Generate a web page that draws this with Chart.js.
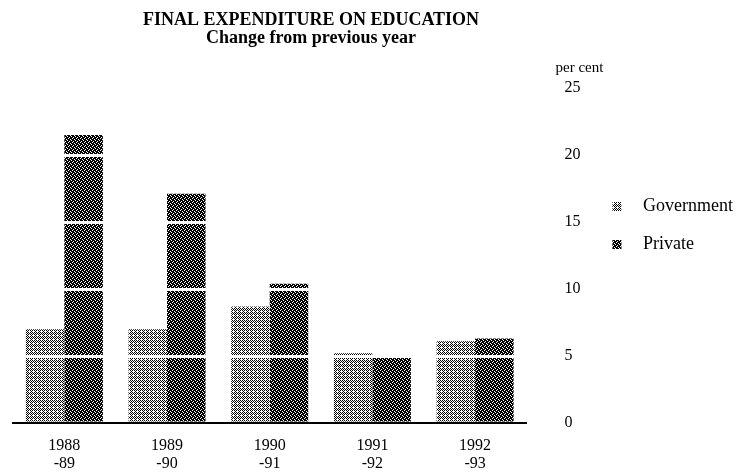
<!DOCTYPE html>
<html>
<head>
<meta charset="utf-8">
<title>Final expenditure on education</title>
<script src="https://cdn.jsdelivr.net/npm/chart.js@4.4.1/dist/chart.umd.min.js"></script>
<style>
  html, body { margin: 0; padding: 0; background: #fff; }
  #wrap { width: 737px; height: 472px; }
</style>
</head>
<body>
<div id="wrap"><canvas id="chart" width="737" height="472"></canvas></div>
<script>
const CATEGORIES = [["1988", "-89"], ["1989", "-90"], ["1990", "-91"], ["1991", "-92"], ["1992", "-93"]]
const GOVERNMENT = [7.0, 7.0, 8.7, 5.2, 6.1]
const PRIVATE = [21.5, 17.1, 10.4, 4.9, 6.3]
const SERIES_NAMES = ["Government", "Private"]
const Y_TICKS = [0, 5, 10, 15, 20, 25]
const TITLE_LINES = ["FINAL EXPENDITURE ON EDUCATION", "Change from previous year"]
const Y_UNIT = "per cent"

const SERIF = '"Liberation Serif", "Times New Roman", serif'

Chart.defaults.font.family = SERIF
Chart.defaults.color = "#000"

const canvas = document.getElementById("chart")
const ctx = canvas.getContext("2d")

// dithered fills, like the printed original
function makePattern(rows) {
  const tile = document.createElement("canvas")
  tile.width = rows[0].length
  tile.height = rows.length
  const t = tile.getContext("2d")
  t.fillStyle = "#fff"
  t.fillRect(0, 0, tile.width, tile.height)
  t.fillStyle = "#000"
  rows.forEach((row, y) => {
    ;[...row].forEach((c, x) => {
      if (c === "x") t.fillRect(x, y, 1, 1)
    })
  })
  return ctx.createPattern(tile, "repeat")
}

const GOV_FILL = makePattern(["x.x.", ".x.x", "x.x.", "...x"])
const PRIVATE_FILL = makePattern(["xxx.", "x.xx", ".xxx", "xx.x"])

const headingPlugin = {
  id: "heading",
  afterDraw(chart) {
    const c = chart.ctx
    const y = chart.scales.y
    c.save()
    c.fillStyle = "#000"
    c.textAlign = "center"
    c.textBaseline = "middle"
    c.font = "bold 18px " + SERIF
    c.fillText(TITLE_LINES[0], 311, 20)
    c.fillText(TITLE_LINES[1], 311, 38)
    c.font = "15px " + SERIF
    c.fillText(Y_UNIT, y.left + 53, 68)
    c.restore()
  },
}

new Chart(canvas, {
  type: "bar",
  data: {
    labels: CATEGORIES,
    datasets: [
      {
        label: SERIES_NAMES[0],
        data: GOVERNMENT,
        backgroundColor: GOV_FILL,
        borderWidth: 0,
        categoryPercentage: 0.75,
        barPercentage: 1,
      },
      {
        label: SERIES_NAMES[1],
        data: PRIVATE,
        backgroundColor: PRIVATE_FILL,
        borderWidth: 0,
        categoryPercentage: 0.75,
        barPercentage: 1,
      },
    ],
  },
  options: {
    responsive: false,
    animation: false,
    layout: { padding: { left: 13, top: 88, right: -6, bottom: 0 } },
    plugins: {
      title: { display: false },
      tooltip: { enabled: false },
      legend: {
        position: "right",
        align: "start",
        title: { display: true, text: "", padding: { top: 75, bottom: 0 } },
        labels: {
          color: "#000",
          font: { size: 18 },
          boxWidth: 9,
          boxHeight: 9,
          padding: 20,
          generateLabels: (chart) =>
            Chart.defaults.plugins.legend.labels
              .generateLabels(chart)
              .map((item) => ({ ...item, text: "  \u2009" + item.text })),
        },
      },
    },
    scales: {
      x: {
        afterFit: (scale) => {
          scale.height = 49
        },
        grid: { display: false, drawTicks: false },
        border: { display: true, color: "#000", width: 2 },
        ticks: {
          color: "#000",
          font: { size: 16, lineHeight: 1.1 },
          padding: 14,
          maxRotation: 0,
          autoSkip: false,
        },
      },
      y: {
        position: "right",
        min: 0,
        max: 25,
        afterBuildTicks: (scale) => {
          scale.ticks = Y_TICKS.map((value) => ({ value }))
        },
        afterFit: (scale) => {
          scale.width = 66
        },
        grid: {
          z: 1,
          lineWidth: 3,
          drawTicks: false,
          color: (c) => (c.tick && c.tick.value > 0 ? "#fff" : "rgba(0,0,0,0)"),
        },
        border: { display: false },
        ticks: {
          color: "#000",
          font: { size: 16 },
          padding: 38,
        },
      },
    },
  },
  plugins: [headingPlugin],
})
</script>
</body>
</html>
